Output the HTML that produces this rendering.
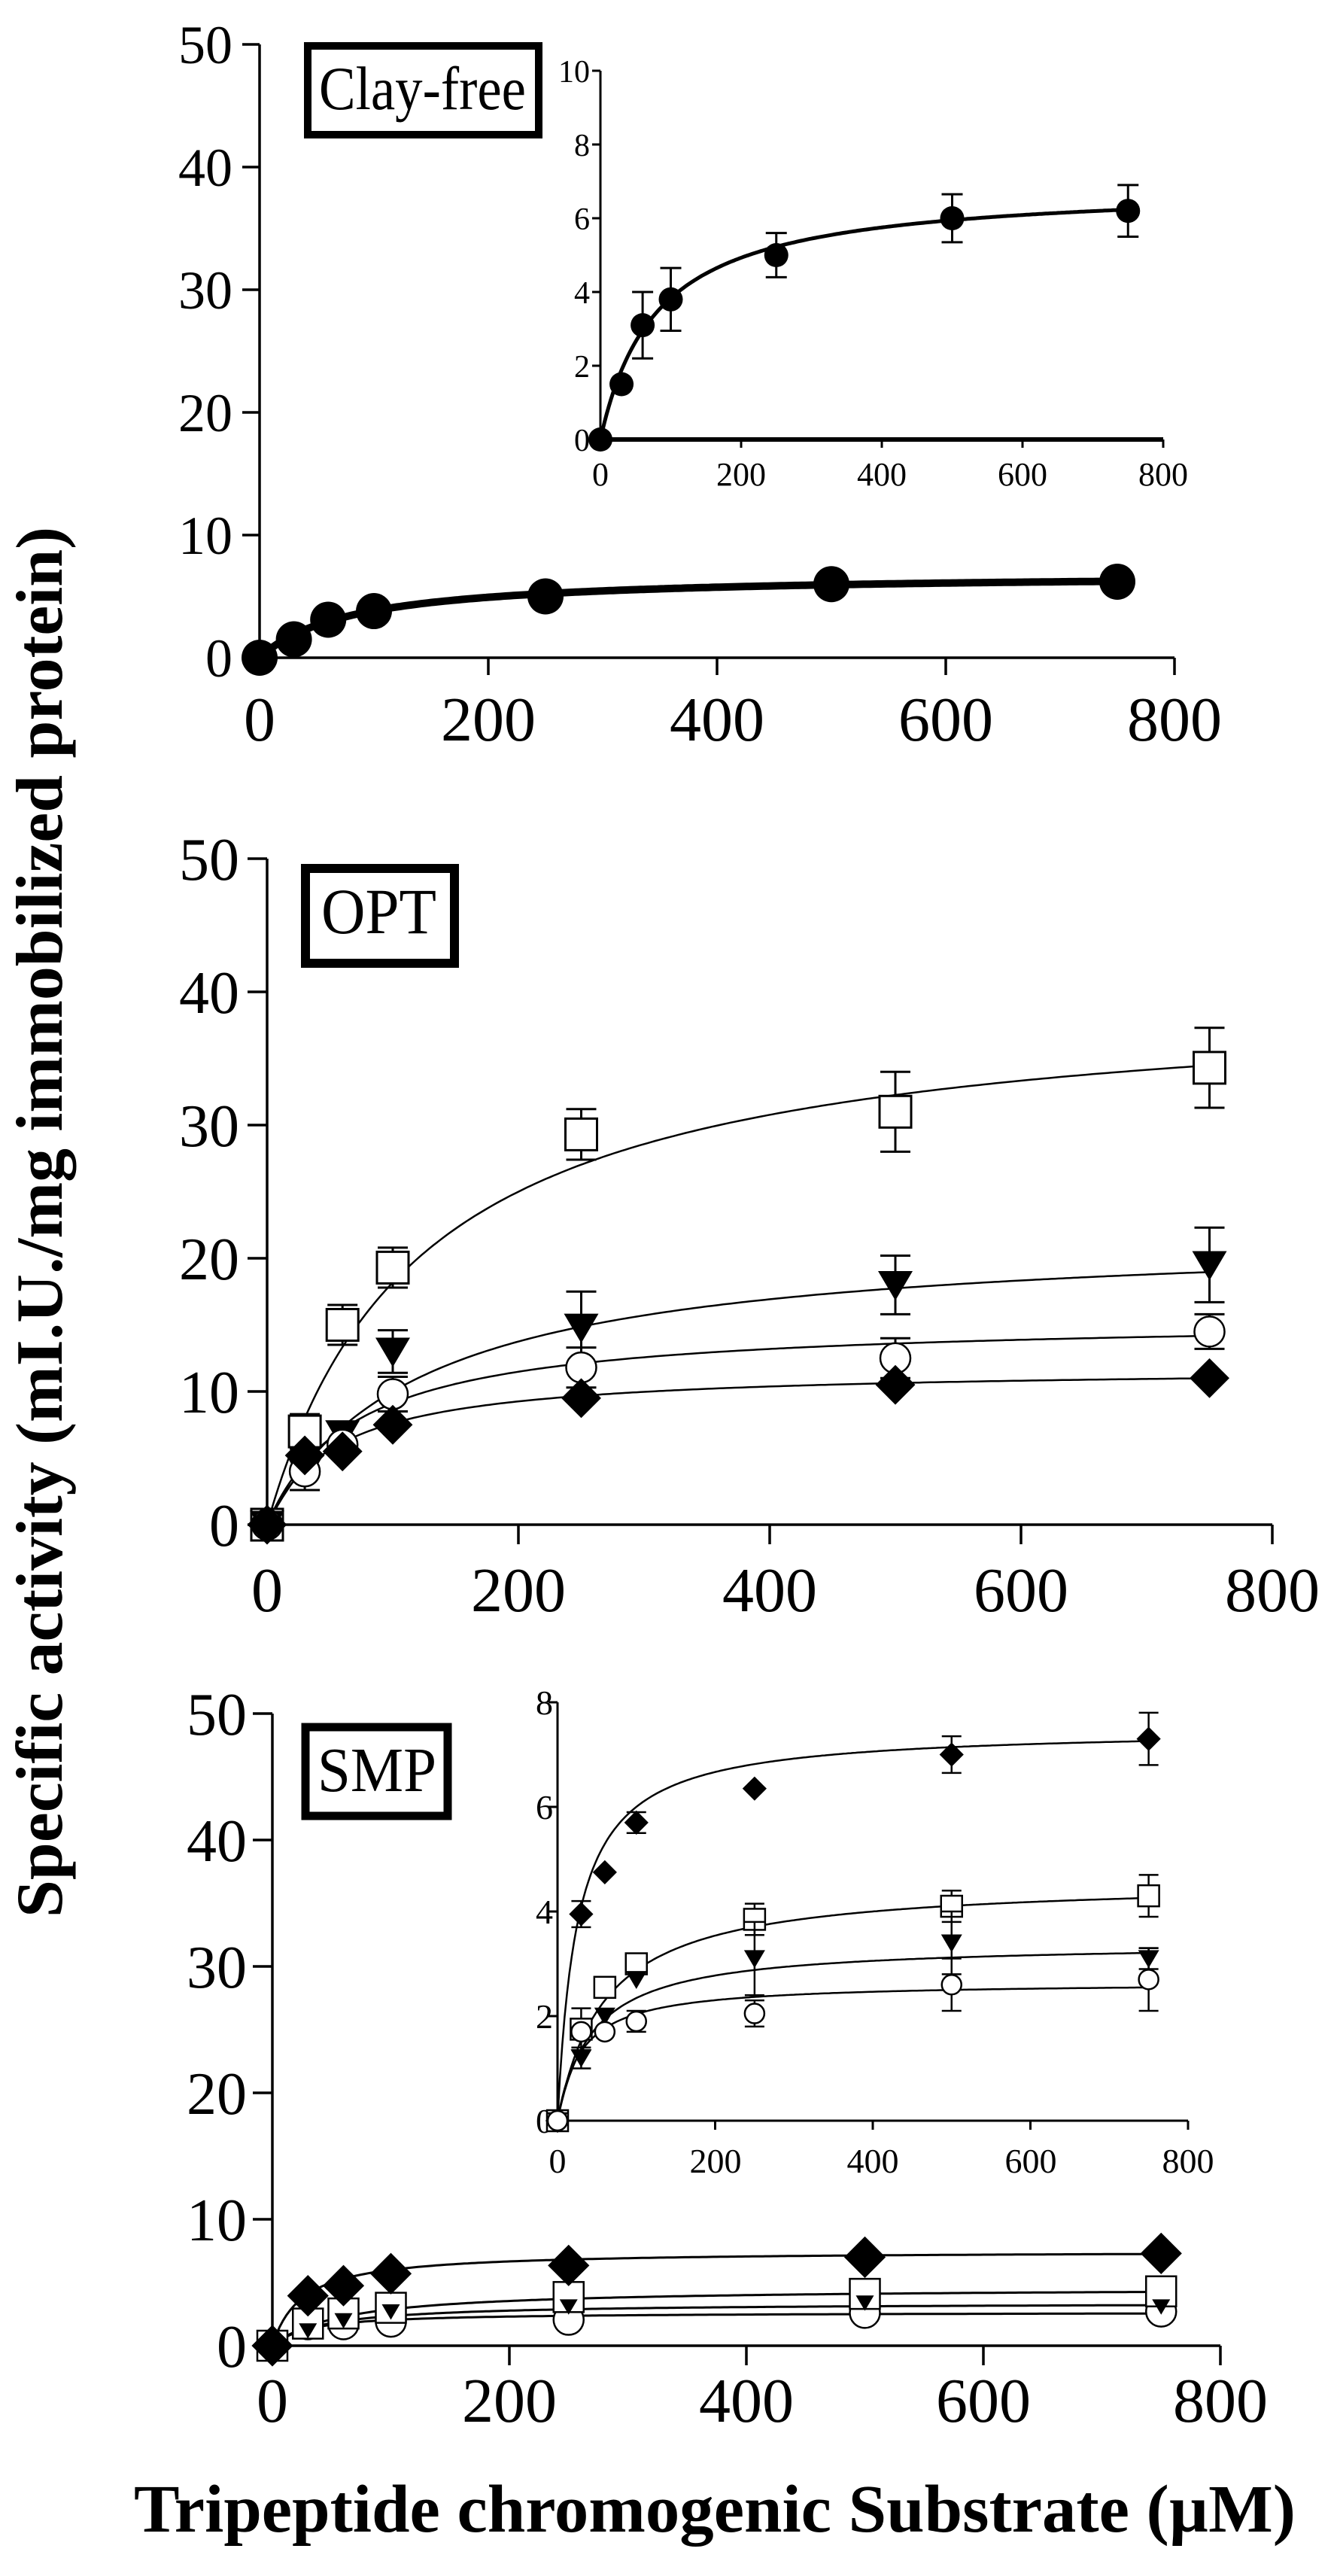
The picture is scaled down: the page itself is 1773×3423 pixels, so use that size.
<!DOCTYPE html>
<html><head><meta charset="utf-8"><style>html,body{margin:0;padding:0;background:#fff}svg{display:block}</style></head>
<body>
<svg id="s" xmlns="http://www.w3.org/2000/svg" width="1773" height="3423" viewBox="0 0 1773 3423" font-family="Liberation Serif, serif">
<rect width="1773" height="3423" fill="#fff"/>
<!-- Panel 1 labels -->
<g font-size="72" text-anchor="end">
<text x="309" y="899" textLength="36" lengthAdjust="spacingAndGlyphs">0</text>
<text x="309" y="736">10</text><text x="309" y="573">20</text><text x="309" y="410">30</text><text x="309" y="247">40</text><text x="309" y="84">50</text>
</g>
<g font-size="84" text-anchor="middle">
<text x="345" y="984">0</text><text x="649" y="984">200</text><text x="953" y="984">400</text><text x="1257" y="984">600</text><text x="1561" y="984">800</text>
</g>
<rect x="409" y="61" width="307" height="118" fill="none" stroke="#000" stroke-width="10"/>
<text x="424" y="145" font-size="82" textLength="275" lengthAdjust="spacingAndGlyphs">Clay-free</text>
<g font-size="42" text-anchor="end">
<text x="784" y="599">0</text><text x="784" y="501">2</text><text x="784" y="403">4</text><text x="784" y="305">6</text><text x="784" y="207">8</text><text x="784" y="109">10</text>
</g>
<g font-size="44" text-anchor="middle">
<text x="798" y="645">0</text><text x="985" y="645">200</text><text x="1172" y="645">400</text><text x="1359" y="645">600</text><text x="1546" y="645">800</text>
</g>
<!-- Panel 2 labels -->
<g font-size="80" text-anchor="end">
<text x="318" y="2054">0</text><text x="318" y="1877">10</text><text x="318" y="1700">20</text><text x="318" y="1523">30</text><text x="318" y="1346">40</text><text x="318" y="1169">50</text>
</g>
<g font-size="84" text-anchor="middle">
<text x="355" y="2141">0</text><text x="689" y="2141">200</text><text x="1023" y="2141">400</text><text x="1357" y="2141">600</text><text x="1691" y="2141">800</text>
</g>
<rect x="406" y="1154" width="198" height="126" fill="none" stroke="#000" stroke-width="12"/>
<text x="427" y="1240" font-size="86" textLength="153" lengthAdjust="spacingAndGlyphs">OPT</text>
<!-- Panel 3 labels -->
<g font-size="80" text-anchor="end">
<text x="328" y="3145">0</text><text x="328" y="2977">10</text><text x="328" y="2809">20</text><text x="328" y="2641">30</text><text x="328" y="2473">40</text><text x="328" y="2305">50</text>
</g>
<g font-size="84" text-anchor="middle">
<text x="362" y="3218">0</text><text x="677" y="3218">200</text><text x="992" y="3218">400</text><text x="1307" y="3218">600</text><text x="1622" y="3218">800</text>
</g>
<rect x="406" y="2295" width="189" height="118" fill="none" stroke="#000" stroke-width="11"/>
<text x="422" y="2380" font-size="84" textLength="158" lengthAdjust="spacingAndGlyphs">SMP</text>
<g font-size="46" text-anchor="end">
<text x="735" y="2834">0</text><text x="735" y="2695">2</text><text x="735" y="2556">4</text><text x="735" y="2417">6</text><text x="735" y="2278">8</text>
</g>
<g font-size="46" text-anchor="middle">
<text x="741" y="2887">0</text><text x="951" y="2887">200</text><text x="1160" y="2887">400</text><text x="1370" y="2887">600</text><text x="1579" y="2887">800</text>
</g>
<!-- Titles -->
<text x="178" y="3364" font-size="90" font-weight="bold" textLength="1544" lengthAdjust="spacingAndGlyphs">Tripeptide chromogenic Substrate (µM)</text>
<text transform="translate(82,1624) rotate(-90)" text-anchor="middle" font-size="88" font-weight="bold" textLength="1848" lengthAdjust="spacingAndGlyphs">Specific activity (mI.U./mg immobilized protein)</text>
<g id="g"></g>
</svg>
<script>
var G=document.getElementById('g'),NS='http://www.w3.org/2000/svg';
function el(t,a){var e=document.createElementNS(NS,t);for(var k in a)e.setAttribute(k,a[k]);G.appendChild(e);return e;}
function line(x1,y1,x2,y2,w){el('line',{x1:x1,y1:y1,x2:x2,y2:y2,stroke:'#000','stroke-width':w});}
function axes(P){ // x0,y0,sx(px/200),sy(px per ystep),ny,ystep,tl,w
 line(P.x0,P.y0,P.x0,P.y0-P.ny*P.sy,P.w);
 line(P.x0,P.y0,P.x0+4*P.sx,P.y0,P.xw||P.w);
 for(var i=0;i<=P.ny;i++)line(P.x0-P.tl,P.y0-i*P.sy,P.x0,P.y0-i*P.sy,P.w);
 for(var i=1;i<=4;i++)line(P.x0+i*P.sx,P.y0,P.x0+i*P.sx,P.y0+P.tl,P.w);
}
var X=[0,30,60,100,250,500,750];
function curve(P,V,K,w){var d='';for(var s=0;s<=750;s+=3){var x=P.x0+s/200*P.sx,y=P.y0-V*s/(K+s)/P.ys*P.sy;d+=(s?'L':'M')+x.toFixed(1)+' '+y.toFixed(1);}
 el('path',{d:d,fill:'none',stroke:'#000','stroke-width':w});}
function mk(type,x,y,r,sw){
 if(type=='c')el('circle',{cx:x,cy:y,r:r,fill:'#fff',stroke:'#000','stroke-width':sw});
 else if(type=='C')el('circle',{cx:x,cy:y,r:r,fill:'#000'});
 else if(type=='s')el('rect',{x:x-r,y:y-r,width:2*r,height:2*r,fill:'#fff',stroke:'#000','stroke-width':sw});
 else if(type=='d')el('polygon',{points:[x,y-r*1.15,x+r*1.15,y,x,y+r*1.15,x-r*1.15,y].join(' '),fill:'#000'});
 else if(type=='t')el('polygon',{points:[x-r,y-r*0.8,x+r,y-r*0.8,x,y+r*0.9].join(' '),fill:'#000'});
}
function series(P,type,Y,E,r,sw,cap,ew){
 for(var i=0;i<7;i++){var x=P.x0+X[i]/200*P.sx,y=P.y0-Y[i]/P.ys*P.sy;
  if(E&&E[i]){var e=E[i]/P.ys*P.sy;line(x,y-e,x,y+e,ew);line(x-cap,y-e,x+cap,y-e,ew);line(x-cap,y+e,x+cap,y+e,ew);}
  mk(type,x,y,r,sw);}
}
// Panel 1 main
var P1={x0:345,y0:874,sx:304,sy:163,ny:5,ys:10,tl:23,w:3.5};
axes(P1);curve(P1,6.9,80,10);
series(P1,'C',[0,1.5,3.1,3.8,5.0,6.0,6.2],null,24,0);
// Panel 1 inset
var I1={x0:798,y0:584,sx:187,sy:98,ny:5,ys:2,tl:11,w:3,xw:6};
axes(I1);curve(I1,6.9,80,5);
series(I1,'C',[0,1.5,3.1,3.8,5.0,6.0,6.2],[0,0,0.9,0.85,0.6,0.65,0.7],16,0,14,3);
// Panel 2
var P2={x0:355,y0:2026,sx:334,sy:177,ny:5,ys:10,tl:26,w:3.5};
axes(P2);
curve(P2,40,120,2.5);curve(P2,22,120,2.5);curve(P2,15.5,70,2.5);curve(P2,11.8,55,2.5);
series(P2,'s',[0,7,15,19.3,29.3,31,34.3],[0,1.3,1.5,1.5,1.9,3,3],21,3,20,3);
series(P2,'t',[0,4,6.8,13,14.8,18,19.5],[0,0,0,1.6,2.7,2.2,2.8],23,0,20,3);
series(P2,'c',[0,4,6,9.8,11.8,12.5,14.5],[0,1.4,0,1.3,1.5,1.5,1.3],20,2.5,20,3);
series(P2,'d',[0,5.2,5.5,7.5,9.5,10.5,11],null,23,0);
// Panel 3 main
var P3={x0:362,y0:3117,sx:315,sy:168,ny:5,ys:10,tl:26,w:3.5};
axes(P3);
var DY=[0,3.95,4.75,5.7,6.35,7.0,7.3],SY=[0,1.75,2.55,3.0,3.85,4.1,4.3],TY=[0,1.2,2.0,2.7,3.1,3.4,3.1],CY=[0,1.7,1.7,1.9,2.05,2.6,2.7];
curve(P3,7.5,25,3);curve(P3,4.6,60,3);curve(P3,3.4,45,3);curve(P3,2.65,30,3);
series(P3,'c',CY,null,20,2.5);series(P3,'s',SY,null,20,2.5);series(P3,'t',TY,null,12,0);series(P3,'d',DY,null,24,0);
// Panel 3 inset
var I3={x0:741,y0:2818,sx:209.5,sy:139,ny:4,ys:2,tl:12,w:3};
axes(I3);
curve(I3,7.5,25,2.5);curve(I3,4.6,60,2.5);curve(I3,3.4,45,2.5);curve(I3,2.65,30,2.5);
series(I3,'d',DY,[0,0.25,0,0.2,0,0.35,0.5],14,0,13,2.5);
series(I3,'s',SY,[0,0.4,0,0,0.3,0.3,0.4],14,2.5,13,2.5);
series(I3,'t',TY,[0,0.2,0,0,0.7,0.6,0.2],14,0,13,2.5);
series(I3,'c',CY,[0,0,0,0.2,0.25,0.5,0.6],13,2.5,13,2.5);
</script>
</body></html>
